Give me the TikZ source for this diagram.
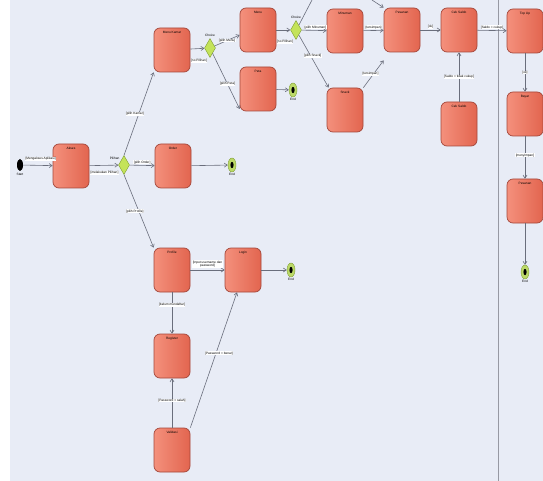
\documentclass[tikz,border=0pt]{standalone}
\usepackage{fontspec}
\setmainfont{Liberation Sans}
\usetikzlibrary{shapes.geometric,arrows.meta}
\definecolor{bgc}{HTML}{E8ECF6}
\definecolor{actl}{HTML}{F4907C}
\definecolor{actr}{HTML}{E2654F}
\definecolor{actd}{HTML}{A4473A}
\definecolor{decf}{HTML}{C4E35A}
\definecolor{decd}{HTML}{7E9E32}
\definecolor{endf}{HTML}{BCD968}
\definecolor{linec}{HTML}{6A6E7C}
\tikzset{
  tiny/.style={font=\fontsize{3.2}{3.6}\selectfont},
  act/.style={draw=actd, line width=0.7pt, rounded corners=6pt, left color=actl, right color=actr,
    minimum width=36pt, minimum height=44pt, inner sep=0pt},
  dec/.style={diamond, draw=decd, fill=decf, line width=0.4pt, minimum width=11pt, minimum height=19pt, inner sep=0pt, aspect=0.55},
  endn/.style={ellipse, draw=decd, fill=endf, line width=0.4pt, minimum width=8pt, minimum height=14pt, inner sep=0pt,
    path picture={\fill[black] (path picture bounding box.center) ellipse (1.6pt and 3.2pt);}},
  startn/.style={ellipse, fill=black, minimum width=6pt, minimum height=12pt, inner sep=0pt},
  lbl/.style={tiny, fill=white, inner sep=0.4pt},
  txt/.style={tiny, inner sep=0.4pt},
  flow/.style={draw=linec, line width=0.6pt, -{Straight Barb[length=3pt,width=4pt]}},
}
\newcommand{\actnode}[3]{\node[act] (#1) at #2 {};
  \node[txt, anchor=north] (#1t) at ([yshift=-3pt]#1.north) {#3};}
\begin{document}
\begin{tikzpicture}[x=1pt,y=-1pt]
\useasboundingbox (0,0) rectangle (543,481);
\fill[white] (0,0) rectangle (543,481);
\fill[bgc] (10,0) rectangle (543,481);
\draw[draw=linec!70, line width=0.8pt] (498,0) -- (498,481);

% nodes
\node[startn] (start) at (20,165) {};
\node[txt, anchor=north] (startl) at (20,173) {Start};
\actnode{akses}{(71,166)}{Akses}
\node[dec] (pil) at (124,165) {};
\node[txt, anchor=south east] (pill) at (120,160) {Pilihan};
\actnode{order}{(173,166)}{Order}
\node[endn] (e1) at (232,165) {};
\node[txt, anchor=north] (e1l) at (232,173) {End};
\actnode{mk}{(172,50)}{Menu Kamar}
\node[dec] (ch1) at (210,48) {};
\node[txt, anchor=south] (ch1l) at (210,37) {Choice};
\actnode{menu}{(258,30)}{Menu}
\actnode{peta}{(258,89)}{Peta}
\node[endn] (e2) at (293,90) {};
\node[txt, anchor=north] (e2l) at (293,98) {End};
\node[dec] (ch2) at (296,30) {};
\node[txt, anchor=south] (ch2l) at (296,19) {Choice};
\actnode{minum}{(345,31)}{Minuman}
\actnode{snack}{(345,110)}{Snack}
\actnode{pes}{(402,30)}{Pesanan}
\actnode{cek}{(459,30)}{Cek Saldo}
\actnode{cek2}{(459,124)}{Cek Saldo}
\actnode{top}{(525,31)}{Top Up}
\actnode{bayar}{(525,114)}{Bayar}
\actnode{pes2}{(525,201)}{Pesanan}
\node[endn] (e3) at (525,272) {};
\node[txt, anchor=north] (e3l) at (525,280) {End};
\actnode{prof}{(172,270)}{Profile}
\actnode{login}{(243,270)}{Login}
\node[endn] (e4) at (291,270) {};
\node[txt, anchor=north] (e4l) at (291,278) {End};
\actnode{reg}{(172,356)}{Register}
\actnode{val}{(172,450)}{Validasi}

\coordinate (offa) at (312,0);
\coordinate (offb) at (372,0);

% connectors
\draw[flow] (start) -- (akses);
\node[lbl, anchor=south west] (mengl) at (25,161) {[Mengakses Aplikasi]};
\draw[flow] (akses) -- (pil);
\node[lbl, anchor=north east] (melk) at (119,171) {[melakukan Pilihan]};
\draw[flow] (pil.north) -- node[lbl, pos=0.5, xshift=-4pt] {[pilih Kamar]} (mk.south west);
\draw[flow] (pil) -- node[lbl, above, yshift=1pt] {[pilih Order]} (order);
\draw[flow] (pil.south) -- node[lbl, pos=0.5, xshift=-4pt] {[pilih Profile]} (prof.north west);
\draw[flow] (order) -- (e1);
\draw[flow] (mk) -- (ch1);
\node[lbl, anchor=north] (nop1) at (199,59) {[no Pilihan]};
\draw[flow] (ch1) -- node[lbl, pos=0.5] {[pilih Menu]} ([yshift=-5pt]menu.west);
\draw[flow] (ch1) -- node[lbl, pos=0.55] {[pilih Peta]} ([yshift=-20pt]peta.west);
\draw[flow] (peta) -- (e2);
\draw[flow] (menu) -- (ch2);
\node[lbl, anchor=north] (nop2) at (285,40) {[no Pilihan]};
\draw[draw=linec, line width=0.6pt] (ch2.north east) -- (offa);
\draw[flow] (offb) -- (pes.north west);
\draw[flow] (ch2) -- node[lbl, above, pos=0.55, yshift=1pt] {[pilih Minuman]} (minum);
\draw[flow] (ch2) -- node[lbl, pos=0.4, xshift=2pt] {[pilih Snack]} ([xshift=2pt]snack.north west);
\draw[flow] (minum) -- node[lbl, above, yshift=1pt] {[tersimpan]} (pes);
\draw[flow] (snack.north east) -- node[lbl, pos=0.5, xshift=-3pt] {[tersimpan]} ([yshift=-8pt]pes.south west);
\draw[flow] (pes) -- node[lbl, above, yshift=1pt] {[ok]} (cek);
\draw[flow] (cek) -- node[lbl, above, yshift=1pt] {[Saldo = cukup]} (top);
\draw[flow] (cek2) -- node[lbl, pos=0.5] {[Saldo = tidak cukup]} (cek);
\draw[flow] (top) -- node[lbl, pos=0.5] {[ok]} (bayar);
\draw[flow] (bayar) -- node[lbl, pos=0.45] {[menyimpan]} (pes2);
\draw[flow] (pes2) -- (e3);
\draw[flow] (prof) -- node[lbl, above, yshift=2pt, align=center] {[Input username dan\\password]} (login);
\draw[flow] (login) -- (e4);
\draw[flow] (prof) -- node[lbl, pos=0.3] {[belum mendaftar]} (reg);
\draw[flow] (val) -- node[lbl, pos=0.55] {[Password = salah]} (reg);
\draw[flow] (val.north east) -- node[lbl, pos=0.55, xshift=3pt] {[Password = benar]} ([xshift=-6pt]login.south);
\end{tikzpicture}
\end{document}
